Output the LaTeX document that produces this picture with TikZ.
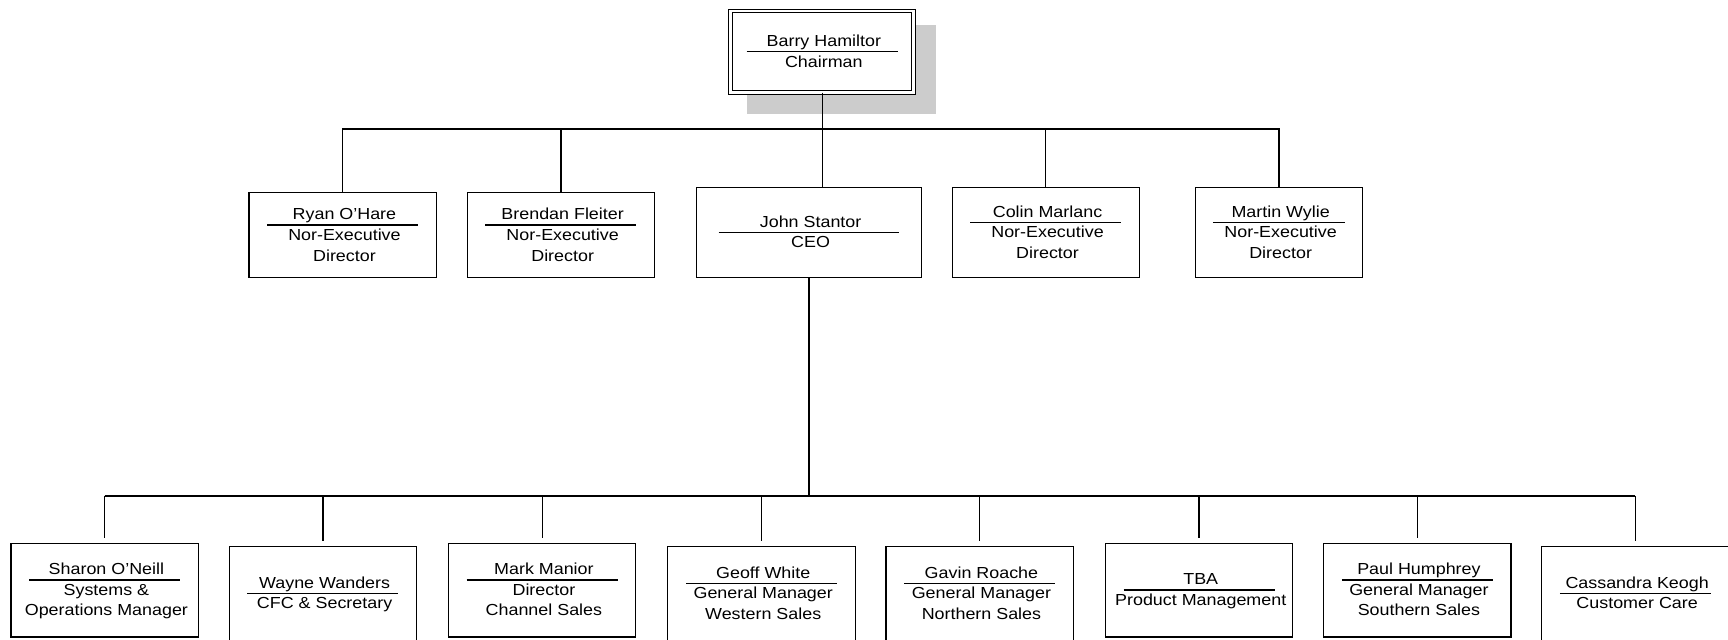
\documentclass[tikz,border=0pt]{standalone}
\usepackage{fontspec}
\setmainfont{Liberation Sans}[FakeStretch=1.12]
\usetikzlibrary{positioning}
\definecolor{shadowgray}{RGB}{204,204,204}

\begin{document}
\begin{tikzpicture}[x=1pt,y=-1pt,
		post/.style={draw,fill=white,line width=1.1pt,inner sep=0pt,outer sep=0pt,minimum width=170pt,minimum height=85pt},
		who/.style={font=\myfontbox,inner sep=0pt,text depth=0pt},
		role/.style={font=\myfontbox,inner sep=0pt,align=center},
		rule/.style={line width=1.2pt},
		link/.style={line width=1.1pt}]
			\newcommand{\myfontbox}{
				\fontsize{14.5}{18.5}\selectfont
			}%Frame of the page
			\useasboundingbox (0,0) rectangle (1568,580);
			%Chairman with its shadow
			\coordinate (chairC) at (746,47);
			\fill[shadowgray] ([shift={(-68,-24)}]chairC) rectangle ([shift={(103,56)}]chairC);
			\node[post,double,double distance=2.4pt,line width=0.9pt,minimum width=166pt,minimum height=74pt] (chair) at (chairC) {};
			\coordinate (chairR) at (chairC);
			\node[who,above=4.5pt of chairR] (chairN) {Barry Hamiltor};
			\node[role,below=3.4pt of chairR] (chairT) {Chairman};
			\draw[rule] ([xshift=-68.5pt]chairR) -- ([xshift=68.5pt]chairR);
			%Board row
			%ryan
			\coordinate (ryanC) at (311,213.5);
			\node[post,minimum height=77pt] (ryan) at (ryanC) {};
			\coordinate (ryanR) at ([yshift=9.25pt]ryanC);
			\node[who,above=4.5pt of ryanR] (ryanN) {Ryan O’Hare};
			\node[role,below=3.4pt of ryanR] (ryanT) {Nor-Executive\\Director};
			\draw[rule] ([xshift=-68.5pt]ryanR) -- ([xshift=68.5pt]ryanR);
			%brendan
			\coordinate (brendanC) at (509,213.5);
			\node[post,minimum height=77pt] (brendan) at (brendanC) {};
			\coordinate (brendanR) at ([yshift=9.25pt]brendanC);
			\node[who,above=4.5pt of brendanR] (brendanN) {Brendan Fleiter};
			\node[role,below=3.4pt of brendanR] (brendanT) {Nor-Executive\\Director};
			\draw[rule] ([xshift=-68.5pt]brendanR) -- ([xshift=68.5pt]brendanR);
			%john
			\coordinate (johnC) at (734,211);
			\node[post,minimum width=204pt,minimum height=82pt] (john) at (johnC) {};
			\coordinate (johnR) at (johnC);
			\node[who,above=4.5pt of johnR] (johnN) {John Stantor};
			\node[role,below=3.4pt of johnR] (johnT) {CEO};
			\draw[rule] ([xshift=-82pt]johnR) -- ([xshift=82pt]johnR);
			%colin
			\coordinate (colinC) at (949,211);
			\node[post,minimum height=82pt] (colin) at (colinC) {};
			\coordinate (colinR) at ([yshift=9.25pt]colinC);
			\node[who,above=4.5pt of colinR] (colinN) {Colin Marlanc};
			\node[role,below=3.4pt of colinR] (colinT) {Nor-Executive\\Director};
			\draw[rule] ([xshift=-68.5pt]colinR) -- ([xshift=68.5pt]colinR);
			%martin
			\coordinate (martinC) at (1160.5,211);
			\node[post,minimum width=151pt,minimum height=82pt] (martin) at (martinC) {};
			\coordinate (martinR) at ([yshift=9.25pt]martinC);
			\node[who,above=4.5pt of martinR] (martinN) {Martin Wylie};
			\node[role,below=3.4pt of martinR] (martinT) {Nor-Executive\\Director};
			\draw[rule] ([xshift=-60pt]martinR) -- ([xshift=60pt]martinR);
			%Management row
			%sharon
			\coordinate (sharonC) at (95,535.5);
			\node[post] (sharon) at (sharonC) {};
			\coordinate (sharonR) at ([yshift=9.25pt]sharonC);
			\node[who,above=4.5pt of sharonR] (sharonN) {Sharon O’Neill};
			\node[role,below=3.4pt of sharonR] (sharonT) {Systems \&\\Operations Manager};
			\draw[rule] ([xshift=-68.5pt]sharonR) -- ([xshift=68.5pt]sharonR);
			%wayne
			\coordinate (wayneC) at (293,538.5);
			\node[post] (wayne) at (wayneC) {};
			\coordinate (wayneR) at (wayneC);
			\node[who,above=4.5pt of wayneR] (wayneN) {Wayne Wanders};
			\node[role,below=3.4pt of wayneR] (wayneT) {CFC \& Secretary};
			\draw[rule] ([xshift=-68.5pt]wayneR) -- ([xshift=68.5pt]wayneR);
			%mark
			\coordinate (markC) at (492,535.5);
			\node[post] (mark) at (markC) {};
			\coordinate (markR) at ([yshift=9.25pt]markC);
			\node[who,above=4.5pt of markR] (markN) {Mark Manior};
			\node[role,below=3.4pt of markR] (markT) {Director\\Channel Sales};
			\draw[rule] ([xshift=-68.5pt]markR) -- ([xshift=68.5pt]markR);
			%geoff
			\coordinate (geoffC) at (691,538.5);
			\node[post] (geoff) at (geoffC) {};
			\coordinate (geoffR) at ([yshift=9.25pt]geoffC);
			\node[who,above=4.5pt of geoffR] (geoffN) {Geoff White};
			\node[role,below=3.4pt of geoffR] (geoffT) {General Manager\\Western Sales};
			\draw[rule] ([xshift=-68.5pt]geoffR) -- ([xshift=68.5pt]geoffR);
			%gavin
			\coordinate (gavinC) at (889,538.5);
			\node[post] (gavin) at (gavinC) {};
			\coordinate (gavinR) at ([yshift=9.25pt]gavinC);
			\node[who,above=4.5pt of gavinR] (gavinN) {Gavin Roache};
			\node[role,below=3.4pt of gavinR] (gavinT) {General Manager\\Northern Sales};
			\draw[rule] ([xshift=-68.5pt]gavinR) -- ([xshift=68.5pt]gavinR);
			%tba
			\coordinate (tbaC) at (1088,535.5);
			\node[post] (tba) at (tbaC) {};
			\coordinate (tbaR) at (tbaC);
			\node[who,above=4.5pt of tbaR] (tbaN) {TBA};
			\node[role,below=3.4pt of tbaR] (tbaT) {Product Management};
			\draw[rule] ([xshift=-68.5pt]tbaR) -- ([xshift=68.5pt]tbaR);
			%paul
			\coordinate (paulC) at (1286,535.5);
			\node[post] (paul) at (paulC) {};
			\coordinate (paulR) at ([yshift=9.25pt]paulC);
			\node[who,above=4.5pt of paulR] (paulN) {Paul Humphrey};
			\node[role,below=3.4pt of paulR] (paulT) {General Manager\\Southern Sales};
			\draw[rule] ([xshift=-68.5pt]paulR) -- ([xshift=68.5pt]paulR);
			%cassandra
			\coordinate (cassandraC) at (1484,538.5);
			\node[post] (cassandra) at (cassandraC) {};
			\coordinate (cassandraR) at (cassandraC);
			\node[who,above=4.5pt of cassandraR] (cassandraN) {Cassandra Keogh};
			\node[role,below=3.4pt of cassandraR] (cassandraT) {Customer Care};
			\draw[rule] ([xshift=-68.5pt]cassandraR) -- ([xshift=68.5pt]cassandraR);
			%Lines below the chairman
			\coordinate (busTop) at (0,117);
			\draw[link] (chair.south) -- (chair.south |- john.north);
			\draw[link] (ryan.north) -- (ryan.north |- busTop) -- (martin.north |- busTop) -- (martin.north);
			\draw[link] (brendan.north) -- (brendan.north |- busTop);
			\draw[link] (colin.north) -- (colin.north |- busTop);
			%Lines below the CEO
			\coordinate (busLow) at (0,450);
			\draw[link] (john.south) -- (john.south |- busLow);
			\draw[link] (sharon.north |- busLow) -- (cassandra.north |- busLow);
			\foreach \i in {sharon,wayne,mark,geoff,gavin,tba,paul,cassandra} {
				\draw[link,shorten >=5pt] (\i.north |- busLow) -- (\i.north);
			}
\end{tikzpicture}
\end{document}
